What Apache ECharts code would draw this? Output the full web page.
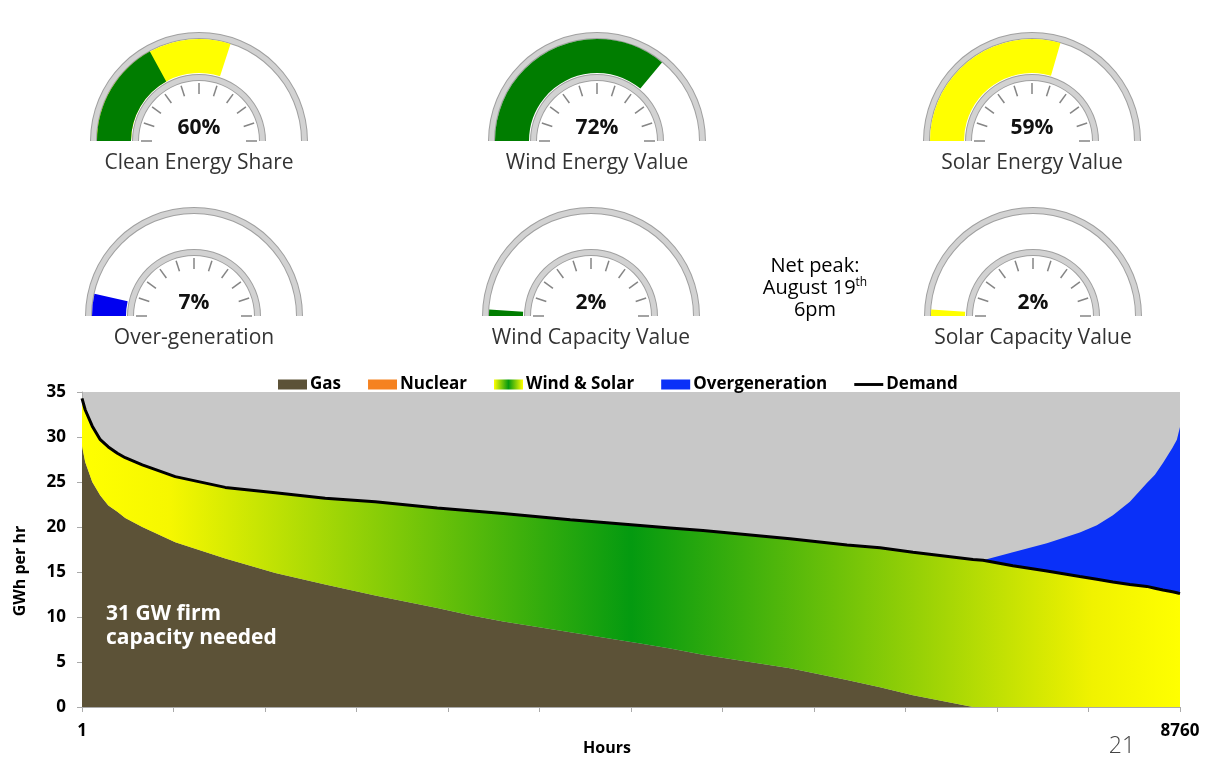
<!DOCTYPE html>
<html>
<head>
<meta charset="utf-8">
<script src="https://cdn.jsdelivr.net/npm/echarts@6/dist/echarts.min.js"></script>
<style>
html, body { margin: 0; padding: 0; background: #fff; }
#chart { width: 1208px; height: 758px; }
</style>
</head>
<body>
<div id="chart"></div>
<script>
// gauge values (percent)
var gaugeNames = ['Clean Energy Share', 'Wind Energy Value', 'Solar Energy Value',
                  'Over-generation', 'Wind Capacity Value', 'Solar Capacity Value'];
var gaugeValues = [60, 72, 59, 7, 2, 2];
var cleanWindPart = 34; // green (wind) slice inside the clean energy share

// load duration curve, hours sorted by demand
var hours = [1, 27, 83, 147, 211, 283, 346, 482, 745, 1144, 1543, 1941, 2340, 2835, 3098, 3361, 3896,
             4430, 4693, 4955, 5649, 6104, 6367, 6630, 7109, 7188, 7427, 7698, 7961, 8097, 8225, 8360,
             8496, 8560, 8624, 8700, 8735, 8760];
var gas = [29.0, 27.2, 25.0, 23.5, 22.4, 21.7, 21.0, 20.0, 18.3, 16.5, 14.9, 13.6, 12.4, 11.0, 10.2, 9.5, 8.3,
           7.1, 6.5, 5.8, 4.3, 3.0, 2.2, 1.3, 0, 0, 0, 0, 0, 0, 0, 0,
           0, 0, 0, 0, 0, 0];
var nuclear = [];
var windSolar = [5.3, 5.8, 6.2, 6.2, 6.5, 6.5, 6.7, 6.9, 7.3, 7.9, 8.9, 9.6, 10.4, 11.1, 11.6, 12.0, 12.5,
                 13.1, 13.4, 13.8, 14.4, 15.0, 15.5, 15.9, 16.4, 16.3, 15.7, 15.1, 14.5, 14.2, 13.9, 13.6,
                 13.4, 13.2, 13.0, 12.8, 12.7, 12.6];
var overgen = [0, 0, 0, 0, 0, 0, 0, 0, 0, 0, 0, 0, 0, 0, 0, 0, 0,
               0, 0, 0, 0, 0, 0, 0, 0, 0, 1.5, 3.1, 4.9, 6.0, 7.4, 9.2,
               11.5, 12.6, 14.1, 16.0, 17.0, 18.5];
var demand = [34.3, 33.0, 31.2, 29.7, 28.9, 28.2, 27.7, 26.9, 25.6, 24.4, 23.8, 23.2, 22.8, 22.1, 21.8, 21.5, 20.8,
              20.2, 19.9, 19.6, 18.7, 18.0, 17.7, 17.2, 16.4, 16.3, 15.7, 15.1, 14.5, 14.2, 13.9, 13.6,
              13.4, 13.2, 13.0, 12.8, 12.7, 12.6];
var yTicks = [0, 5, 10, 15, 20, 25, 30, 35];
var xLabels = [1, 8760];

var FONT = '"Open Sans", sans-serif';
var GREEN = '#007d00', YELLOW = '#ffff00', BLUE = '#0000f0';
var gaugeColors = [YELLOW, GREEN, YELLOW, BLUE, GREEN, YELLOW];
var gaugeCenters = [[199, 141], [597, 141], [1032, 141], [194, 316], [591, 316], [1033, 316]];

var chart = echarts.init(document.getElementById('chart'));

// [value, hour] so the stack runs on the value dimension (x/y are both value axes)
function pairs(arr) {
  return hours.map(function (h, i) { return [arr[i], h]; });
}

function ring(c, r, w, color, ticks) {
  return {
    type: 'gauge', center: c, radius: r, startAngle: 180, endAngle: 0, silent: true,
    min: 0, max: 100, splitNumber: 10,
    axisLine: { lineStyle: { width: w, color: [[1, color]] } },
    axisTick: { show: false },
    splitLine: ticks ? { show: true, distance: 3, length: 11, lineStyle: { color: '#858585', width: 1.5 } } : { show: false },
    axisLabel: { show: false }, pointer: { show: false }, anchor: { show: false },
    title: { show: false }, detail: { show: false },
    data: [{ value: 0 }]
  };
}

function band(c, value, color, name) {
  return {
    type: 'gauge', center: c, radius: 102, startAngle: 180, endAngle: 0, silent: true,
    min: 0, max: 100,
    axisLine: { lineStyle: { width: 34, color: [[1, 'rgba(0,0,0,0)']] } },
    progress: { show: true, width: 34, itemStyle: { color: color } },
    axisTick: { show: false }, splitLine: { show: false }, axisLabel: { show: false },
    pointer: { show: false }, anchor: { show: false },
    title: name ? { offsetCenter: [0, 22], fontSize: 21, color: '#333', fontFamily: FONT } : { show: false },
    detail: name ? { offsetCenter: [0, -13], formatter: '{value}%', fontSize: 21, fontWeight: 'bold', color: '#111', fontFamily: FONT } : { show: false },
    data: [{ value: value, name: name || '' }]
  };
}

var series = [];
gaugeNames.forEach(function (name, i) {
  var c = gaugeCenters[i];
  series.push(ring(c, 109, 7, '#a0a0a0', false));
  series.push(ring(c, 108, 5, '#d2d2d2', false));
  series.push(band(c, gaugeValues[i], gaugeColors[i], name));
  if (i === 0) series.push(band(c, cleanWindPart, GREEN, null));
  series.push(ring(c, 67, 7, '#a0a0a0', false));
  series.push(ring(c, 66, 5, '#d2d2d2', true));
});

var wsGradient = new echarts.graphic.LinearGradient(0, 0, 1, 0, [
  { offset: 0, color: '#ffff00' },
  { offset: 0.08, color: '#f6f700' },
  { offset: 0.5, color: '#049a10' },
  { offset: 0.92, color: '#f0f200' },
  { offset: 1, color: '#ffff00' }
]);

var enc = { x: 1, y: 0 };
series.push({
  name: 'Gas', type: 'line', stack: 'gen', data: pairs(gas), encode: enc, symbol: 'none', silent: true,
  lineStyle: { width: 0 }, itemStyle: { color: '#5c5237' }, areaStyle: { color: '#5c5237', opacity: 1 }, z: 3
});
series.push({
  name: 'Nuclear', type: 'line', data: nuclear, symbol: 'none',
  itemStyle: { color: '#f58220' }, areaStyle: { color: '#f58220', opacity: 1 }
});
series.push({
  name: 'Wind & Solar', type: 'line', stack: 'gen', data: pairs(windSolar), encode: enc, symbol: 'none', silent: true,
  lineStyle: { width: 0 }, itemStyle: { color: '#7cc010' }, areaStyle: { color: wsGradient, opacity: 1 }, z: 3
});
series.push({
  name: 'Overgeneration', type: 'line', stack: 'gen', data: pairs(overgen), encode: enc, symbol: 'none', silent: true,
  lineStyle: { width: 0 }, itemStyle: { color: '#0a30f8' }, areaStyle: { color: '#0a30f8', opacity: 1 }, z: 3
});
series.push({
  name: 'Demand', type: 'line', data: pairs(demand), encode: enc, symbol: 'none', silent: true,
  lineStyle: { width: 3, color: '#000' }, itemStyle: { color: '#000' }, z: 4
});

var option = {
  animation: false,
  backgroundColor: '#fff',
  textStyle: { fontFamily: FONT },
  grid: { left: 82, right: 28, top: 392, bottom: 51, show: true, backgroundColor: '#c8c8c8', borderWidth: 0 },
  legend: {
    top: 371, left: 273, itemWidth: 29, itemHeight: 10, itemGap: 27, selectedMode: false,
    textStyle: { fontWeight: 'bold', fontSize: 17, color: '#000', fontFamily: FONT, padding: [0, 0, 0, -2] },
    data: [
      { name: 'Gas', icon: 'rect' },
      { name: 'Nuclear', icon: 'rect' },
      { name: 'Wind & Solar', icon: 'rect', itemStyle: { color: new echarts.graphic.LinearGradient(0, 0, 1, 0, [
        { offset: 0, color: '#ffff00' }, { offset: 0.5, color: '#049a10' }, { offset: 1, color: '#ffff00' }]) } },
      { name: 'Overgeneration', icon: 'rect' },
      { name: 'Demand', icon: 'path://M0,0H30V3H0Z' }
    ]
  },
  xAxis: {
    type: 'value', min: 1, max: 8760, interval: 730,
    axisLine: { lineStyle: { color: '#aaa' } },
    axisTick: { length: 5, lineStyle: { color: '#aaa' } },
    splitLine: { show: false },
    axisLabel: {
      margin: 16, color: '#000', fontWeight: 'bold', fontFamily: FONT,
      formatter: function (v) {
        if (v === xLabels[0]) return '{a|' + v + '}';
        if (v === xLabels[1]) return '{b|' + v + '}';
        return '';
      },
      rich: { a: { fontSize: 17, fontWeight: 'bold', color: '#000', fontFamily: FONT },
              b: { fontSize: 17, fontWeight: 'bold', color: '#000', fontFamily: FONT } }
    },
    name: 'Hours', nameLocation: 'middle', nameGap: 31,
    nameTextStyle: { fontWeight: 'bold', fontSize: 16, color: '#000', fontFamily: FONT, padding: [0, 48, 0, 0] }
  },
  yAxis: {
    type: 'value', min: yTicks[0], max: yTicks[yTicks.length - 1], interval: yTicks[1] - yTicks[0],
    axisLine: { show: true, lineStyle: { color: '#aaa' } },
    axisTick: { show: true, length: 5, lineStyle: { color: '#aaa' } },
    splitLine: { show: false },
    axisLabel: { margin: 16, color: '#000', fontWeight: 'bold', fontSize: 17, fontFamily: FONT }
  },
  graphic: [
    { type: 'text', x: 20, y: 571, rotation: Math.PI / 2, silent: true,
      style: { text: 'GWh per hr', font: 'bold 16px ' + FONT, fill: '#000', align: 'center', verticalAlign: 'middle' } },
    { type: 'text', x: 106, y: 602, silent: true, z: 10,
      style: { text: '31 GW firm\ncapacity needed', font: 'bold 21px ' + FONT, fill: '#fff', lineHeight: 24 } },
    { type: 'text', x: 815, y: 288, silent: true,
      style: { text: '{n|Net peak:}\n{n|August 19}{s|th}\n{n|6pm}', align: 'center', verticalAlign: 'middle',
               rich: { n: { fontSize: 20, lineHeight: 22, color: '#333', fontFamily: FONT },
                       s: { fontSize: 12, lineHeight: 22, verticalAlign: 'top', color: '#333', fontFamily: FONT } } } },
    { type: 'text', x: 1122, y: 746, silent: true,
      style: { text: '21', font: '300 23px ' + FONT, fill: '#444', align: 'center', verticalAlign: 'middle' } }
  ],
  series: series
};

chart.setOption(option);
</script>
</body>
</html>
